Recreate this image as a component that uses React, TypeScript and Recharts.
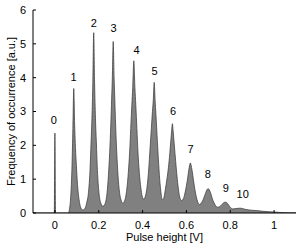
import React from 'react';
import { AreaChart, Area, XAxis, YAxis, Label, ReferenceDot } from 'recharts';

const pulseHeight = [
  -0.1, -0.003, 0, 0.003, 0.062,
  0.066, 0.07, 0.074, 0.078, 0.082, 0.086, 0.09, 0.094, 0.098, 0.103, 0.11, 0.118, 0.127,
  0.136, 0.145, 0.153, 0.16, 0.165, 0.169, 0.173, 0.177, 0.181, 0.185, 0.189, 0.194, 0.201, 0.209, 0.219,
  0.229, 0.238, 0.244, 0.25, 0.255, 0.259, 0.262, 0.266, 0.27, 0.273, 0.277, 0.282, 0.288, 0.295, 0.302, 0.31,
  0.319, 0.328, 0.335, 0.341, 0.346, 0.351, 0.355, 0.36, 0.365, 0.369, 0.374, 0.379, 0.385, 0.392, 0.398, 0.405,
  0.413, 0.421, 0.428, 0.434, 0.44, 0.445, 0.449, 0.453, 0.457, 0.461, 0.466, 0.472, 0.478, 0.484, 0.49,
  0.497, 0.504, 0.511, 0.518, 0.524, 0.529, 0.533, 0.536, 0.539, 0.543, 0.548, 0.554, 0.56, 0.567, 0.577,
  0.586, 0.593, 0.6, 0.606, 0.611, 0.615, 0.618, 0.621, 0.626, 0.632, 0.638, 0.645, 0.652, 0.658,
  0.666, 0.674, 0.681, 0.688, 0.694, 0.699, 0.704, 0.711, 0.718, 0.726, 0.734, 0.743,
  0.752, 0.76, 0.768, 0.774, 0.779, 0.785, 0.792, 0.8, 0.812,
  0.825, 0.838, 0.85, 0.862, 0.875, 0.9, 0.925, 0.95, 0.975, 1.0, 1.03, 1.06, 1.1,
];

const frequency = [
  0, 0, 2.36, 0, 0,
  0.1, 0.3, 0.7, 1.4, 2.5, 3.68, 2.6, 1.9, 1.4, 0.85, 0.4, 0.16, 0.09,
  0.12, 0.3, 0.6, 1.25, 2.1, 2.8, 3.85, 5.33, 3.85, 2.8, 2.1, 1.25, 0.6, 0.3, 0.2,
  0.28, 0.6, 1.1, 1.8, 2.6, 3.4, 4.0, 5.07, 4.0, 3.4, 2.6, 1.8, 1.1, 0.6, 0.38, 0.29,
  0.38, 0.7, 1.2, 1.8, 2.5, 3.2, 3.7, 4.5, 3.7, 3.2, 2.5, 1.8, 1.2, 0.75, 0.5, 0.41,
  0.5, 0.8, 1.3, 1.9, 2.5, 3.0, 3.35, 3.86, 3.35, 2.9, 2.3, 1.6, 1.0, 0.6, 0.39,
  0.45, 0.7, 1.0, 1.35, 1.75, 2.15, 2.45, 2.64, 2.45, 2.15, 1.75, 1.3, 0.9, 0.55, 0.37,
  0.42, 0.58, 0.8, 1.05, 1.28, 1.42, 1.48, 1.42, 1.25, 0.98, 0.72, 0.48, 0.32, 0.25,
  0.28, 0.36, 0.47, 0.6, 0.69, 0.72, 0.69, 0.58, 0.43, 0.3, 0.21, 0.17,
  0.19, 0.24, 0.29, 0.315, 0.32, 0.3, 0.24, 0.17, 0.12,
  0.13, 0.14, 0.14, 0.12, 0.1, 0.08, 0.07, 0.05, 0.04, 0.03, 0.015, 0.008, 0.005,
];

// photoelectron count labels over each peak
const peakNames = ['0', '1', '2', '3', '4', '5', '6', '7', '8', '9', '10'];
const peakLabelX = [-0.005, 0.085, 0.178, 0.268, 0.372, 0.455, 0.539, 0.619, 0.698, 0.78, 0.857];
const peakLabelY = [2.74, 4.01, 5.62, 5.46, 4.81, 4.2, 3.01, 1.9, 1.14, 0.75, 0.57];

const xTicks = [0, 0.2, 0.4, 0.6, 0.8, 1];
const yTicks = [0, 1, 2, 3, 4, 5, 6];

const FONT = '"Liberation Sans", Arial, Helvetica, sans-serif';

const data = pulseHeight.map((x, i) => ({ x, y: frequency[i] }));

const App: React.FC = () => {
  const tickStyle = { fill: '#000', fontSize: 11, fontFamily: FONT };
  return (
    <div style={{ position: 'absolute', left: 0, top: 0, width: 302, height: 245, background: '#fff' }}>
      <AreaChart width={302} height={245} data={data} margin={{ top: 10, right: 6, bottom: 0, left: 0 }}>
        <XAxis
          dataKey="x"
          type="number"
          domain={[-0.1, 1.1]}
          allowDataOverflow
          ticks={xTicks}
          tickFormatter={(v: number) => String(v)}
          height={32}
          tickSize={-3}
          tickMargin={11}
          stroke="#000"
          tick={tickStyle}
        >
          <Label value="Pulse height [V]" position="insideBottom" offset={4} style={{ fontSize: 11, fontFamily: FONT, fill: '#000' }} />
        </XAxis>
        <XAxis
          xAxisId="top"
          orientation="top"
          dataKey="x"
          type="number"
          domain={[-0.1, 1.1]}
          allowDataOverflow
          ticks={xTicks}
          height={0}
          tickSize={-3}
          tick={false}
          stroke="#000"
        />
        <YAxis
          type="number"
          domain={[0, 6]}
          allowDataOverflow
          ticks={yTicks}
          width={33}
          tickSize={-3}
          tickMargin={10}
          stroke="#000"
          tick={tickStyle}
        >
          <Label
            value="Frequency of occurrence [a.u.]"
            angle={-90}
            position="insideLeft"
            offset={11}
            style={{ textAnchor: 'middle', fontSize: 11, fontFamily: FONT, fill: '#000' }}
          />
        </YAxis>
        <YAxis
          yAxisId="right"
          orientation="right"
          type="number"
          domain={[0, 6]}
          allowDataOverflow
          ticks={yTicks}
          width={0}
          tickSize={-3}
          tick={false}
          stroke="#000"
        />
        <Area
          type="monotone"
          dataKey="y"
          stroke="#3c3c3c"
          strokeWidth={0.75}
          fill="#808080"
          fillOpacity={1}
          isAnimationActive={false}
        />
        {peakNames.map((name, i) => (
          <ReferenceDot
            key={name}
            x={peakLabelX[i]}
            y={peakLabelY[i]}
            r={0}
            fill="none"
            stroke="none"
            label={{ value: name, position: 'center', fontSize: 11, fontFamily: FONT, fill: '#000' }}
          />
        ))}
      </AreaChart>
    </div>
  );
};

export default App;
